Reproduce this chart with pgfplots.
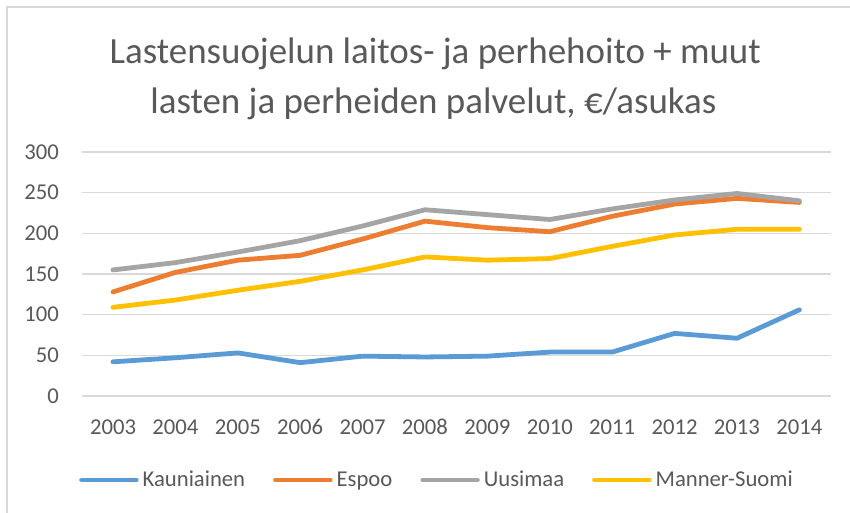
\documentclass[border=0pt]{standalone}
\usepackage{fontspec}
\setmainfont{Carlito}
\usepackage{pgfplots}
\pgfplotsset{compat=1.18}
\definecolor{cKau}{HTML}{5B9BD5}
\definecolor{cEsp}{HTML}{ED7D31}
\definecolor{cUus}{HTML}{A5A5A5}
\definecolor{cMan}{HTML}{FFC000}
\definecolor{txt}{HTML}{595959}
\definecolor{grd}{HTML}{D9D9D9}
\begin{document}
\begin{tikzpicture}
\useasboundingbox (0,0) rectangle (637.5pt,384pt);
\fill[white] (0,0) rectangle (637.5pt,384pt);
\draw[grd, line width=1.4pt] (5.25pt,-2pt) -- (5.25pt,378.75pt) -- (640pt,378.75pt);
\node[anchor=base, text=txt, font=\fontsize{27.7}{32}\selectfont] at (326.5pt,336.75pt) {Lastensuojelun laitos- ja perhehoito + muut};
\node[anchor=base, text=txt, font=\fontsize{27.7}{32}\selectfont] at (325pt,299.25pt) {lasten ja perheiden palvelut, €/asukas};
\begin{axis}[
  at={(61.35pt,87pt)}, anchor=south west,
  scale only axis, width=561.6pt, height=183pt,
  xmin=2002.5, xmax=2014.5, ymin=0, ymax=300,
  xtick={2003,...,2014}, ytick={0,50,...,300},
  axis line style={draw=none},
  major tick length=0pt,
  ymajorgrids, grid style={grd, line width=1.1pt},
  /pgf/number format/assume math mode=true,
  x tick label style={/pgf/number format/1000 sep={}, inner sep=0pt, anchor=base, yshift=-29pt},
  y tick label style={inner sep=0pt, anchor=east, xshift=-17pt},
  tick label style={font=\fontsize{17}{20}\selectfont, text=txt},
  every axis plot/.append style={line width=3.6pt, line cap=round, line join=round, mark=none},
  legend columns=4,
  legend style={at={(0.473,-0.344)}, anchor=center, draw=none, fill=none,
    font=\fontsize{17}{20}\selectfont, text=txt, nodes={inner sep=0pt},
    /tikz/every odd column/.append style={column sep=3pt},
    /tikz/every even column/.append style={column sep=21pt}},
  legend image code/.code={\draw[#1] (0pt,0pt) -- (41pt,0pt);},
  clip=false,
]
\addplot[cKau] coordinates {(2003,42) (2004,47) (2005,53) (2006,41) (2007,49) (2008,48) (2009,49) (2010,54) (2011,54) (2012,77) (2013,71) (2014,106)};
\addlegendentry{Kauniainen}
\addplot[cEsp] coordinates {(2003,128) (2004,152) (2005,167) (2006,173) (2007,193) (2008,215) (2009,207) (2010,202) (2011,221) (2012,236) (2013,243) (2014,238)};
\addlegendentry{Espoo}
\addplot[cUus] coordinates {(2003,155) (2004,164) (2005,177) (2006,191) (2007,209) (2008,229) (2009,223) (2010,217) (2011,230) (2012,241) (2013,249) (2014,240)};
\addlegendentry{Uusimaa}
\addplot[cMan] coordinates {(2003,109) (2004,118) (2005,130) (2006,141) (2007,155) (2008,171) (2009,167) (2010,169) (2011,184) (2012,198) (2013,205) (2014,205)};
\addlegendentry{Manner-Suomi}
\end{axis}
\end{tikzpicture}
\end{document}
